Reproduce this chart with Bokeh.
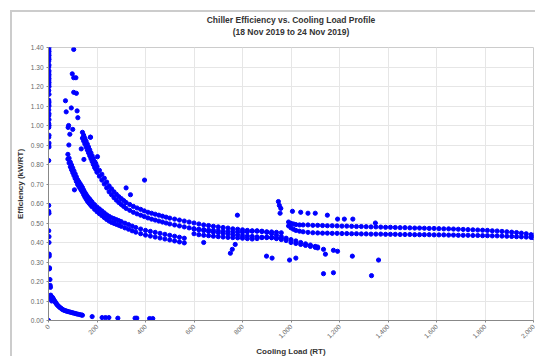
import math
from bokeh.plotting import figure
from bokeh.models import Title, NumeralTickFormatter, FixedTicker
from bokeh.embed import file_html
from bokeh.resources import INLINE

# ---- data ----
# cluster near zero load
load_a = [2,1,2,1,2,1,2,1,2,1,2,1,2,1,2,1,2,1,2,1,2,1,2,1,2,1,2,1,2,1,2,1,2,1,2,1,2,1,
          1,1,2,1,2,2,3,3,4,4,6,7,8,9,10,11,13,0]
eff_a = [1.40,1.39,1.38,1.37,1.36,1.35,1.34,1.33,1.31,1.30,1.28,1.27,1.26,1.25,1.24,1.23,1.22,1.21,1.20,1.18,
         1.16,1.13,1.12,1.11,1.10,1.08,1.06,1.05,1.03,1.01,1.00,0.99,0.95,0.94,0.91,0.90,0.89,0.82,
         0.59,0.56,0.55,0.46,0.43,0.40,0.34,0.33,0.27,0.265,0.21,0.18,0.17,0.13,0.12,0.11,0.10,0.00]
# low decaying curve
load_b = [15,18,20,22,25,28,30,33,36,40,44,48,52,56,60,65,70,75,80,86,92,98,104,110,116,122,130,136,140,180,
          221,235,249,286,357,364,417,430]
eff_b = [0.12,0.115,0.11,0.105,0.10,0.095,0.09,0.085,0.08,0.075,0.07,0.066,0.062,0.058,0.055,0.052,0.05,0.048,
         0.046,0.044,0.042,0.04,0.038,0.036,0.034,0.032,0.03,0.028,0.027,0.02,0.015,0.015,0.015,0.012,0.012,
         0.012,0.01,0.01]
# scattered high points at low load
load_c = [104,98,104,113,104,115,70,94,73,118,121,83,81,100,88,84,135,146,107,173]
eff_c = [1.39,1.265,1.245,1.245,1.17,1.165,1.127,1.09,1.07,1.075,1.04,1.00,0.99,0.98,0.955,0.90,0.88,0.826,0.67,0.94]
# upper curve
load_d = [140,145,150,155,160,165,170,175,180,185,190,195,200,210,220,230,240,250,260,270,280,290,300,310,320,
          335,350,365,380,395,410,425,440,455,470,485,500,520,540,560,580,600,620,640,660,680,700,720,740,760,
          780,800,820,840,860,880,900,920,940,960]
eff_d_hi = [0.965,0.95,0.935,0.92,0.905,0.89,0.875,0.86,0.845,0.83,0.815,0.805,0.79,0.77,0.75,0.73,0.71,0.69,
            0.675,0.66,0.647,0.635,0.625,0.615,0.605,0.595,0.585,0.577,0.57,0.562,0.555,0.55,0.545,0.54,0.535,
            0.53,0.525,0.52,0.515,0.51,0.505,0.50,0.495,0.49,0.487,0.483,0.48,0.477,0.474,0.47,0.468,0.465,
            0.462,0.46,0.458,0.456,0.455,0.454,0.452,0.45]
eff_d_lo = [0.935,0.92,0.905,0.89,0.875,0.86,0.845,0.83,0.815,0.80,0.785,0.775,0.76,0.74,0.72,0.70,0.68,0.66,
            0.645,0.63,0.617,0.605,0.595,0.585,0.575,0.565,0.555,0.547,0.54,0.533,0.526,0.52,0.515,0.51,0.505,
            0.50,0.495,0.49,0.485,0.48,0.475,0.47,0.465,0.461,0.457,0.453,0.45,0.447,0.444,0.441,0.438,0.435,
            0.433,0.431,0.429,0.427,0.425,0.425,0.423,0.422]
# lower curve
load_e = [80,85,90,95,100,105,110,115,120,125,130,135,140,145,150,155,160,165,170,175,180,190,200,210,220,230,
          240,250,260,270,280,290,300,315,330,345,360,380,400,420,440,460,480,500,520,540,560]
eff_e_hi = [0.852,0.832,0.812,0.797,0.782,0.767,0.752,0.737,0.722,0.712,0.702,0.692,0.682,0.669,0.657,0.647,
            0.637,0.629,0.622,0.614,0.607,0.594,0.582,0.572,0.562,0.552,0.542,0.534,0.527,0.522,0.517,0.512,
            0.507,0.499,0.492,0.484,0.477,0.469,0.462,0.457,0.452,0.447,0.442,0.437,0.432,0.427,0.422]
eff_e_lo = [0.828,0.808,0.788,0.773,0.758,0.743,0.728,0.713,0.698,0.688,0.678,0.668,0.658,0.645,0.633,0.623,
            0.613,0.605,0.598,0.590,0.583,0.570,0.558,0.548,0.538,0.528,0.518,0.510,0.503,0.498,0.493,0.488,
            0.483,0.475,0.468,0.460,0.453,0.445,0.438,0.433,0.428,0.423,0.418,0.413,0.408,0.403,0.398]
# middle band
load_f = [600,620,640,660,680,700,720,740,760,780,800,820,840,860,880,900,920,940,960,980,1000,1020,1040,1060,
          1080,1100,1110]
eff_f_hi = [0.47,0.468,0.466,0.464,0.462,0.46,0.458,0.456,0.455,0.454,0.453,0.455,0.458,0.46,0.458,0.452,0.445,
            0.437,0.43,0.422,0.415,0.408,0.40,0.393,0.387,0.38,0.377]
eff_f_lo = [0.445,0.44,0.437,0.435,0.432,0.43,0.428,0.426,0.425,0.424,0.422,0.42,0.418,0.42,0.425,0.428,0.425,
            0.42,0.415,0.41,0.40,0.395,0.39,0.385,0.38,0.375,0.372]
# right band
load_g = [990,1000,1010,1020,1035,1050,1070,1090,1110,1130,1150,1170,1190,1210,1230,1250,1270,1290,1310,1330,
          1350,1370,1390,1410,1430,1450,1470,1490,1510,1530,1550,1570,1590,1610,1630,1650,1670,1690,1710,1730,
          1750,1770,1790,1810,1830,1850,1870,1890,1910,1930,1950,1970,1990,2000]
eff_g_hi = [0.505,0.498,0.495,0.492,0.49,0.49,0.49,0.488,0.488,0.487,0.486,0.486,0.485,0.484,0.484,0.483,0.482,
            0.482,0.481,0.48,0.48,0.479,0.478,0.478,0.477,0.476,0.476,0.475,0.474,0.474,0.473,0.472,0.472,0.471,
            0.47,0.47,0.469,0.468,0.467,0.466,0.465,0.464,0.463,0.462,0.46,0.459,0.457,0.455,0.453,0.451,0.448,
            0.445,0.44,0.437]
eff_g_lo = [0.485,0.475,0.468,0.462,0.458,0.455,0.452,0.45,0.449,0.448,0.448,0.447,0.447,0.446,0.446,0.445,0.445,
            0.444,0.444,0.443,0.443,0.443,0.442,0.442,0.442,0.441,0.441,0.441,0.44,0.44,0.44,0.44,0.439,0.439,
            0.439,0.438,0.438,0.437,0.437,0.437,0.436,0.436,0.435,0.435,0.434,0.434,0.433,0.432,0.431,0.43,0.429,
            0.428,0.426,0.425]
# outliers
load_h = [948,952,958,955,1006,1040,1070,1100,1150,1192,1220,1255,1348,779,899,922,994,1020,1134,1175,1332,1253,
          1361,750,640,396,202,320,338,173,1134,1142,1175,1192,758,770]
eff_h = [0.61,0.59,0.575,0.55,0.56,0.555,0.55,0.55,0.54,0.52,0.52,0.52,0.50,0.54,0.33,0.32,0.31,0.32,0.24,0.245,
         0.23,0.33,0.31,0.345,0.40,0.72,0.84,0.68,0.645,0.94,0.365,0.34,0.36,0.355,0.365,0.39]

x_ticks = [0, 200, 400, 600, 800, 1000, 1200, 1400, 1600, 1800, 2000]
y_ticks = [0.0, 0.1, 0.2, 0.3, 0.4, 0.5, 0.6, 0.7, 0.8, 0.9, 1.0, 1.1, 1.2, 1.3, 1.4]
title_lines = ["Chiller Efficiency vs. Cooling Load Profile", "(18 Nov 2019 to 24 Nov 2019)"]

FONT = "Liberation Sans"

p = figure(width=525, height=346, output_backend="svg", toolbar_location=None,
           x_range=(0, 2000), y_range=(0, 1.4), title=None,
           min_border_left=36, min_border_right=4, min_border_top=34, min_border_bottom=36)
p.styles = {"margin-left": "10px", "margin-top": "10px",
            "border-left": "2px solid #cccccc", "border-top": "2px solid #cccccc"}

series = [(load_a, eff_a), (load_b, eff_b), (load_c, eff_c),
          (load_d, eff_d_hi), (load_d, eff_d_lo), (load_e, eff_e_hi), (load_e, eff_e_lo),
          (load_f, eff_f_hi), (load_f, eff_f_lo), (load_g, eff_g_hi), (load_g, eff_g_lo),
          (load_h, eff_h)]
for xs, ys in series:
    p.scatter(xs, ys, size=4.2, color="#0000ff", line_color="#0000ff")

# blank spacer panel between frame and the two title lines
p.add_layout(Title(text=" ", text_font=FONT, text_font_size="7.5px", standoff=0), "above")
for line in reversed(title_lines):
    p.add_layout(Title(text=line, align="center", offset=-18,
                       text_font=FONT, text_font_size="8.5px", text_font_style="bold",
                       text_color="#333333", standoff=0), "above")

p.xaxis.ticker = FixedTicker(ticks=x_ticks)
p.yaxis.ticker = FixedTicker(ticks=y_ticks)
p.xaxis.formatter = NumeralTickFormatter(format="0,0")
p.yaxis.formatter = NumeralTickFormatter(format="0.00")
p.xaxis.major_label_orientation = math.pi / 4
p.xaxis.axis_label = "Cooling Load (RT)"
p.yaxis.axis_label = "Efficiency (kW/RT)"
for ax in (p.xaxis, p.yaxis):
    ax.axis_label_text_font = FONT
    ax.axis_label_text_font_size = "8px"
    ax.axis_label_text_font_style = "bold"
    ax.axis_label_text_color = "#333333"
    ax.major_label_text_font = FONT
    ax.major_label_text_font_size = "6.5px"
    ax.major_label_text_color = "#666666"
    ax.axis_line_color = "#888888"
    ax.major_tick_line_color = "#888888"
    ax.major_tick_out = 2
    ax.major_tick_in = 0
    ax.minor_tick_line_color = None
    ax.major_label_standoff = 3
    ax.axis_label_standoff = 3

p.grid.grid_line_color = "#e6e6e6"
p.outline_line_color = "#cccccc"
p.background_fill_color = "white"
p.border_fill_color = "white"

open("out.html", "w").write(file_html(p, INLINE))
